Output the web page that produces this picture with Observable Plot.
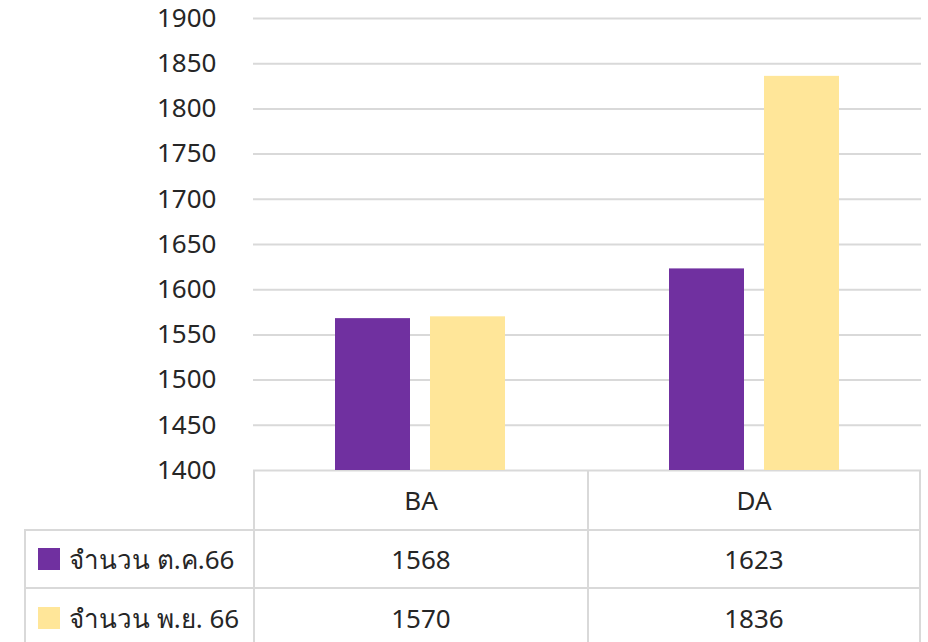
<!DOCTYPE html>
<html>
<head>
<meta charset="utf-8">
<script src="https://cdn.jsdelivr.net/npm/d3@7"></script>
<script src="https://cdn.jsdelivr.net/npm/@observablehq/plot@0.6"></script>
<style>
  html, body { margin: 0; padding: 0; background: #fff; }
  #wrap { position: relative; width: 928px; height: 642px; overflow: hidden; font-family: "Noto Sans", "DejaVu Sans", sans-serif; color: #262626; }
  #chart { position: absolute; left: 0; top: 0; }
  #table { position: absolute; left: 24px; top: 470px; display: grid; grid-template-columns: 229px 334px 334px; grid-template-rows: 59px 58px 60px; }
  .cell { box-sizing: border-box; display: flex; align-items: center; justify-content: center; font-size: 26px; border-color: #d9d9d9; border-style: solid; border-width: 0; }
  .cell.lbl { justify-content: flex-start; padding-left: 12px; }
  .sw { width: 22px; height: 22px; margin-right: 9px; flex: none; }
</style>
</head>
<body>
<div id="wrap">
  <div id="chart"></div>
  <div id="table"></div>
</div>
<script>
const categories = ["BA", "DA"];
const seriesNames = ["จำนวน ต.ค.66", "จำนวน พ.ย. 66"];
const octValues = [1568, 1623];
const novValues = [1570, 1836];
const seriesValues = [octValues, novValues];
const yTicks = [1400, 1450, 1500, 1550, 1600, 1650, 1700, 1750, 1800, 1850, 1900];
const colors = ["#7030A0", "#FFE699"];

const data = categories.flatMap((c, i) =>
  seriesNames.map((s, j) => ({cat: c, series: s, value: seriesValues[j][i]}))
);

const chart = Plot.plot({
  width: 928,
  height: 492,
  marginTop: 18,
  marginBottom: 22,
  marginLeft: 253,
  marginRight: 7,
  style: {fontSize: "26px", fontFamily: "'Noto Sans', 'DejaVu Sans', sans-serif", color: "#262626", background: "transparent", overflow: "visible"},
  fx: {domain: categories, padding: 0, axis: null, label: null},
  x: {domain: seriesNames, paddingInner: 20 / 95, paddingOuter: 0.863, axis: null},
  y: {domain: [yTicks[0], yTicks[yTicks.length - 1]], ticks: yTicks, tickFormat: d => String(d), tickSize: 0, tickPadding: 37, label: null},
  color: {domain: seriesNames, range: colors},
  marks: [
    Plot.ruleY(yTicks, {stroke: "#d9d9d9", strokeWidth: 2}),
    Plot.barY(data, {fx: "cat", x: "series", y1: yTicks[0], y2: "value", fill: "series"})
  ]
});
document.getElementById("chart").appendChild(chart);

// Data table below the chart
const table = document.getElementById("table");
function cell(html, cls, borders) {
  const d = document.createElement("div");
  d.className = "cell " + (cls || "");
  d.innerHTML = html;
  d.style.borderTopWidth = borders.t ? "2px" : "0";
  d.style.borderLeftWidth = borders.l ? "2px" : "0";
  d.style.borderRightWidth = borders.r ? "2px" : "0";
  table.appendChild(d);
}
cell("", "", {});
categories.forEach((c, i) => cell(c, "", {l: true, r: i === categories.length - 1}));
seriesNames.forEach((s, j) => {
  cell(`<span class="sw" style="background:${colors[j]}"></span>${s}`, "lbl", {t: true, l: true});
  categories.forEach((c, i) => cell(String(seriesValues[j][i]), "", {t: true, l: true, r: i === categories.length - 1}));
});
</script>
</body>
</html>
